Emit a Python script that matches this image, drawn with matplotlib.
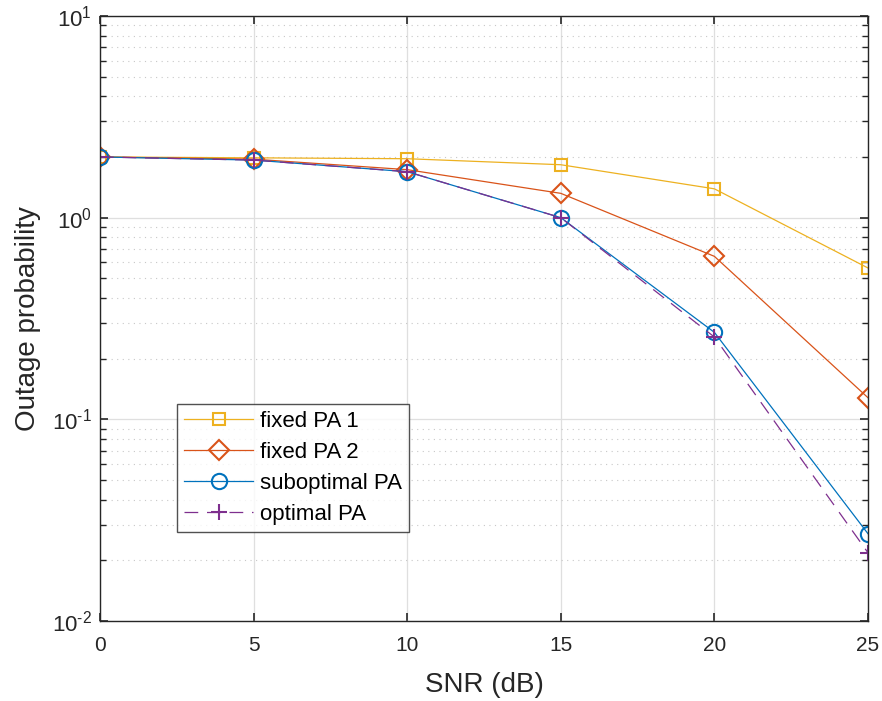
import numpy as np
import matplotlib.pyplot as plt
from matplotlib.ticker import LogLocator, NullFormatter, FuncFormatter

plt.rcParams['font.family'] = ['Liberation Sans', 'DejaVu Sans']
plt.rcParams['mathtext.fontset'] = 'custom'
plt.rcParams['mathtext.rm'] = 'Liberation Sans'
plt.rcParams['mathtext.it'] = 'Liberation Sans:italic'

snr = [0, 5, 10, 15, 20, 25]
fixed_pa1 = [2.0, 1.98, 1.96, 1.83, 1.39, 0.563]
fixed_pa2 = [2.0, 1.95, 1.73, 1.32, 0.643, 0.128]
subopt_pa = [2.0, 1.93, 1.69, 1.0, 0.270, 0.0271]
opt_pa = [2.0, 1.93, 1.69, 1.0, 0.256, 0.0218]

fig = plt.figure(figsize=(8.82, 7.01), dpi=100)
ax = fig.add_axes([0.1134, 0.1141, 0.8707, 0.8631])

ax.semilogy(snr, fixed_pa1, '-s', color='#EDB120', lw=0.9, ms=9, mfc='none', mew=1.5, label='fixed PA 1')
ax.semilogy(snr, fixed_pa2, '-D', color='#D95319', lw=0.9, ms=10, mfc='none', mew=1.5, label='fixed PA 2')
ax.semilogy(snr, subopt_pa, '-o', color='#0072BD', lw=0.9, ms=11, mfc='none', mew=1.5, label='suboptimal PA')
ax.semilogy(snr, opt_pa, '--+', color='#7E2F8E', lw=0.9, ms=11, mew=1.5, dashes=(11, 7), label='optimal PA')

ax.set_xlim(0, 25)
ax.set_ylim(1e-2, 1e1)
ax.set_xticks([0, 5, 10, 15, 20, 25])
ax.yaxis.set_major_locator(LogLocator(base=10, numticks=10))
ax.yaxis.set_minor_locator(LogLocator(base=10, subs=np.arange(2, 10), numticks=20))
ax.yaxis.set_minor_formatter(NullFormatter())


def exp_label(v, pos):
    e = int(round(np.log10(v)))
    if e < 0:
        return r'$10^{\text{-}%d}$' % (-e)
    return r'$10^{%d}$' % e


ax.yaxis.set_major_formatter(FuncFormatter(exp_label))

ax.grid(True, which='major', color='#DFDFDF', lw=0.9)
ax.grid(True, which='minor', axis='y', color='#C8C8C8', lw=0.8, ls=(0, (1, 4)))
ax.set_axisbelow(True)

ax.tick_params(which='both', direction='in', top=True, right=True, colors='#262626')
ax.tick_params(axis='x', labelsize=15, pad=11)
ax.tick_params(axis='y', labelsize=16, pad=6)
ax.tick_params(which='major', length=6, width=1.2)
ax.tick_params(which='minor', length=4, width=1.0)
for s in ax.spines.values():
    s.set_color('#262626')
    s.set_linewidth(1.0)

ax.set_xlabel('SNR (dB)', fontsize=20, color='#262626', labelpad=12)
ax.set_ylabel('Outage probability', fontsize=20, color='#262626', labelpad=8)

leg = ax.legend(loc='lower left', bbox_to_anchor=(0.1003, 0.147), borderaxespad=0, fontsize=16,
                frameon=True, fancybox=False, edgecolor='#262626', handlelength=3.1,
                borderpad=0.32, labelspacing=0.45, handletextpad=0.3)
leg.get_frame().set_linewidth(1.0)

fig.savefig('out.png', dpi=100)
